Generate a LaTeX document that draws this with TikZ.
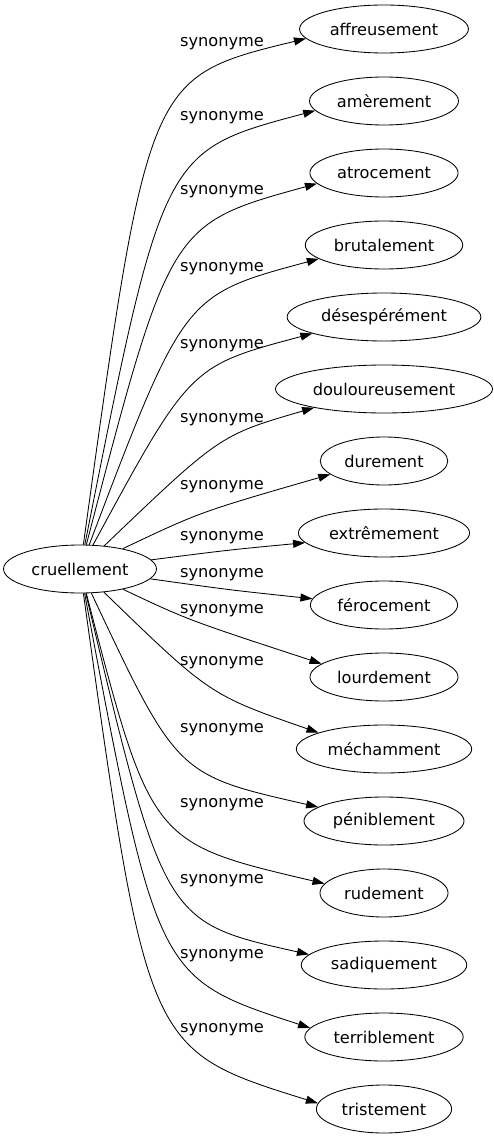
\documentclass[tikz,border=0pt]{standalone}
\usepackage{fontspec}
\setmainfont{DejaVu Sans}
\usetikzlibrary{arrows.meta, shapes.geometric}

\begin{document}
\begin{tikzpicture}[x=1pt, y=-1pt, line width=0.85pt,
    every node/.style={font=\fontsize{16.2}{19}\selectfont},
    mot/.style={draw, ellipse, minimum height=48pt, inner xsep=5.5pt, inner ysep=0pt},
    lab/.style={inner sep=0pt},
    syn/.style={-{Triangle[length=12pt, width=8pt]}}]
    \useasboundingbox (0,0) rectangle (493,1139);
    % Centre word
    \node[mot] (c) at (80,569) {cruellement};
    % Synonyms
    \foreach \i/\w in {0/affreusement, 1/amèrement, 2/atrocement, 3/brutalement,
        4/désespérément, 5/douloureusement, 6/durement, 7/extrêmement,
        8/férocement, 9/lourdement, 10/méchamment, 11/péniblement,
        12/rudement, 13/sadiquement, 14/terriblement, 15/tristement}
    {
        \node[mot] (t\i) at (384, 29+72*\i) {\w};
    }
    % Edge labels
    \foreach \i/\y in {0/44, 1/118, 2/192, 3/269, 4/346, 5/420, 6/487, 7/538,
        8/575, 9/611, 10/663, 11/730, 12/805, 13/881, 14/956, 15/1030}
    {
        \node[lab] (l\i) at (222,\y) {synonyme};
    }
    % Edges (control point, angle of arrival)
    \foreach \i/\kx/\ky/\a in {0/148/77/187, 1/163/151/188, 2/170/224/189,
        3/184/295/192, 4/190/366/193, 5/220/435/195, 6/200/512/194,
        7/228/550/187, 8/230/590/175, 9/188/620/168, 10/210/695/166,
        11/177/775/168, 12/151/843/171, 13/164/922/172, 14/157/978/173,
        15/147/1050/175}
    {
        \draw[syn] (c) .. controls (\kx,\ky) .. (t\i.\a);
    }
\end{tikzpicture}
\end{document}
